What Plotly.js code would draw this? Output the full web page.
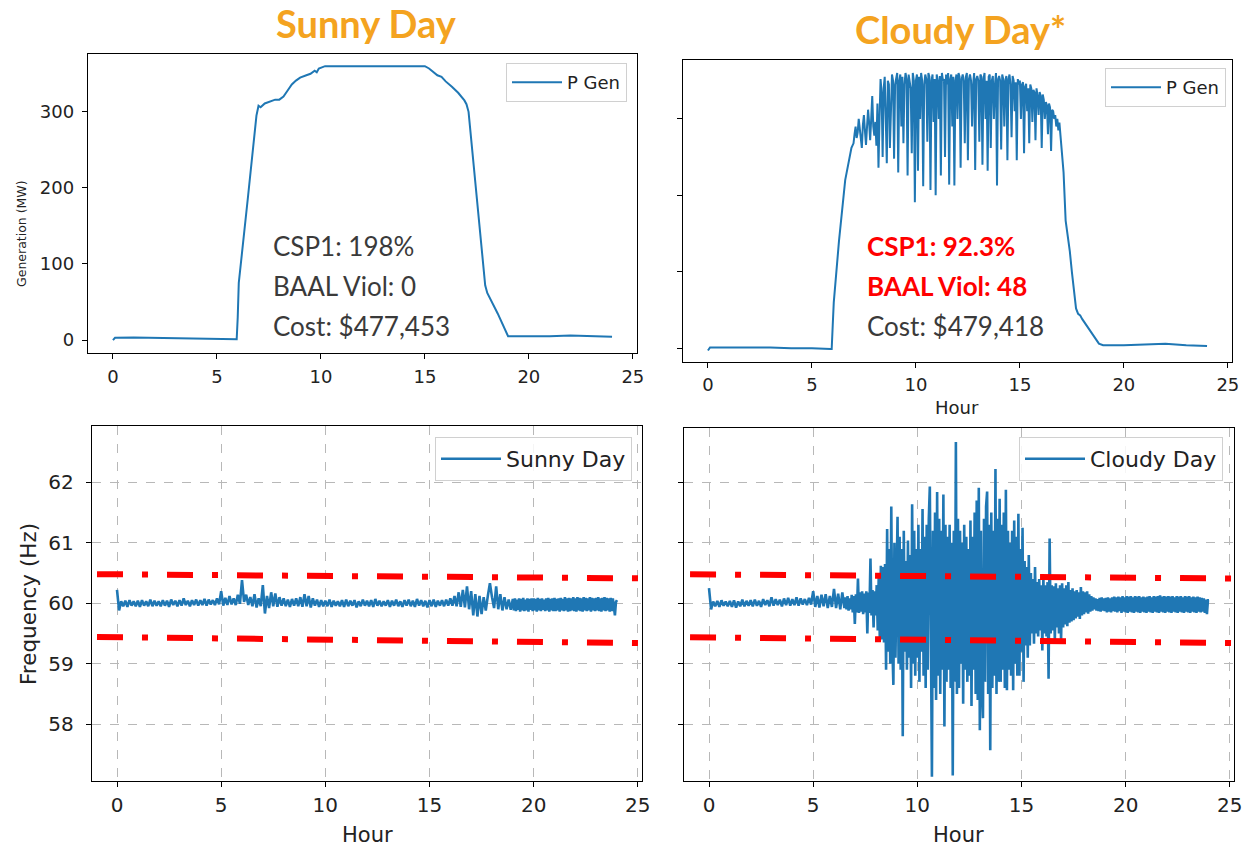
<!DOCTYPE html>
<html>
<head>
<meta charset="utf-8">
<script src="https://cdn.plot.ly/plotly-3.0.1.min.js"></script>
<style>html,body{margin:0;padding:0;background:#fff;}#chart{width:1243px;height:848px;}</style>
</head>
<body>
<div id="chart"></div>
<script>
// ---------------- DATA ----------------
const tickHours = [0, 5, 10, 15, 20, 25];
const genTicks = [0, 100, 200, 300];
const freqTicks = [58, 59, 60, 61, 62];

// Sunny day generation (hour, MW)
const sunnyGenHours = [0, 0.1, 1, 2, 3, 4, 5, 5.5, 5.95, 6.0, 6.05, 6.5, 6.9, 7.0, 7.1, 7.3, 7.5, 7.8, 8.0, 8.2, 8.4, 8.6, 8.8, 9.0, 9.3, 9.5, 9.7, 9.8, 9.9, 10.0, 10.2, 11, 12, 13, 14, 15, 15.2, 15.4, 15.6, 15.8, 16, 16.3, 16.6, 16.9, 17.0, 17.1, 17.5, 17.9, 18.0, 18.5, 19.0, 20, 21, 22, 23, 24];
const sunnyGenMW = [0, 3, 3.5, 3, 3, 2.5, 2, 1, 1, 30, 75, 190, 295, 308, 306, 311, 313, 316, 316, 320, 328, 336, 341, 345, 348, 350, 354, 352, 357, 358, 360, 360, 360, 360, 360, 360, 357, 353, 348, 346, 340, 333, 325, 315, 310, 300, 190, 72, 62, 35, 5, 5, 5, 6, 5, 4.5];

// Cloudy day generation: ramp-up, noisy plateau (7.0-17.0 every 0.05 h), ramp-down
const cloudyGenRampHours = [0, 0.1, 1, 2, 3, 4, 5, 5.9, 5.95, 6.0, 6.05, 6.3, 6.6, 6.9];
const cloudyGenRampMW = [-3, 1, 1, 1, 1, 0, 0, -1, -1, 30, 60, 140, 220, 262];
const cloudyGenNoisyStart = 7.0, cloudyGenNoisyStep = 0.05;
const cloudyGenNoisyMW = [
  268, 280, 290, 275, 282, 300, 288, 270, 262, 292, 305, 284, 266, 290, 312, 295, 272, 300, 330, 290,
  278, 296, 265, 320, 236, 300, 352, 335, 250, 340, 355, 300, 242, 350, 345, 262, 330, 358, 350, 248,
  345, 356, 360, 230, 350, 358, 290, 355, 268, 345, 360, 352, 226, 358, 350, 340, 255, 360, 350, 191,
  350, 358, 232, 355, 300, 360, 350, 212, 345, 358, 352, 270, 360, 355, 207, 350, 358, 296, 352, 200,
  358, 350, 300, 356, 226, 360, 350, 352, 250, 358, 345, 360, 214, 352, 358, 290, 355, 213, 350, 358,
  300, 360, 355, 236, 352, 358, 350, 268, 355, 360, 246, 352, 358, 350, 290, 345, 360, 233, 352, 356,
  350, 270, 358, 355, 240, 352, 360, 300, 350, 232, 355, 358, 262, 350, 356, 300, 345, 360, 213, 352,
  356, 350, 260, 358, 352, 290, 350, 356, 246, 352, 358, 345, 276, 356, 350, 310, 348, 246, 352, 345,
  350, 300, 345, 348, 255, 342, 346, 310, 340, 268, 345, 340, 296, 338, 335, 272, 340, 330, 305, 335,
  330, 262, 332, 325, 300, 322, 318, 280, 320, 315, 258, 312, 310, 300, 305, 290, 300, 285, 295, 280,
  270
];
const cloudyGenTailHours = [17.1, 17.2, 17.3, 17.4, 17.5, 17.6, 17.7, 17.8, 17.9, 18.0, 18.2, 18.5, 18.8, 19, 20, 21, 22, 23, 24];
const cloudyGenTailMW = [230, 167, 150, 127, 100, 75, 52, 45, 43, 38, 30, 18, 6, 4, 4, 5, 6, 4, 3];

// Sunny day frequency: 0-18.9 h every 0.1 h, then 19-24 h every 0.05 h
const sunnyFreqAStart = 0, sunnyFreqAStep = 0.1;
const sunnyFreqA = [
  60.22, 59.88, 60.03, 59.95, 60.04, 59.94, 60.05, 59.96, 60.03, 59.95,
  60.04, 59.94, 60.05, 59.96, 60.03, 59.95, 60.06, 59.95, 60.04, 59.96,
  60.03, 59.95, 60.05, 59.96, 60.04, 59.94, 60.06, 59.97, 60.04, 59.95,
  60.05, 59.96, 60.08, 59.97, 60.04, 59.95, 60.05, 59.97, 60.06, 59.96,
  60.05, 59.97, 60.07, 59.96, 60.06, 59.98, 60.05, 59.97, 60.08, 59.98,
  60.2, 59.96, 60.09, 59.97, 60.12, 59.98, 60.08, 59.97, 60.14, 59.99,
  60.38, 60.02, 60.14, 59.97, 60.1, 59.95, 60.15, 59.93, 60.08, 59.95,
  60.3, 59.83, 60.12, 59.92, 60.18, 59.95, 60.16, 59.94, 60.1, 59.96,
  60.08, 59.95, 60.06, 59.94, 60.07, 59.96, 60.08, 59.95, 60.1, 59.94,
  60.15, 59.95, 60.12, 59.93, 60.08, 59.96, 60.06, 59.94, 60.05, 59.95,
  60.04, 59.95, 60.06, 59.94, 60.04, 59.96, 60.03, 59.95, 60.05, 59.94,
  60.06, 59.95, 60.04, 59.96, 60.05, 59.93, 60.03, 59.95, 60.06, 59.96,
  60.04, 59.95, 60.05, 59.94, 60.07, 59.96, 60.04, 59.95, 60.03, 59.96,
  60.05, 59.94, 60.04, 59.96, 60.06, 59.95, 60.03, 59.94, 60.05, 59.96,
  60.06, 59.95, 60.04, 59.94, 60.07, 59.96, 60.05, 59.95, 60.04, 59.93,
  60.05, 59.95, 60.06, 59.94, 60.04, 59.96, 60.05, 59.95, 60.06, 59.96,
  60.08, 59.96, 60.12, 59.95, 60.18, 59.94, 60.22, 59.93, 60.28, 59.9,
  60.2, 59.8, 60.15, 59.78, 60.12, 59.82, 60.1, 59.88, 60.12, 60.33,
  60.1, 59.92, 60.28, 59.9, 60.15, 59.88, 60.1, 59.9, 60.06, 59.89
];
const sunnyFreqBStart = 19.0, sunnyFreqBStep = 0.05;
const sunnyFreqB = [
  60.07, 59.88, 60.08, 59.87, 60.06, 59.89, 60.08, 59.86, 60.07, 59.88, 60.09, 59.87, 60.06, 59.88, 60.08, 59.86, 60.07, 59.89, 60.08, 59.87,
  60.08, 59.88, 60.07, 59.86, 60.09, 59.88, 60.07, 59.87, 60.08, 59.89, 60.06, 59.87, 60.08, 59.88, 60.09, 59.86, 60.07, 59.88, 60.08, 59.87,
  60.09, 59.87, 60.07, 59.88, 60.08, 59.86, 60.09, 59.88, 60.07, 59.87, 60.1, 59.88, 60.08, 59.86, 60.09, 59.87, 60.08, 59.88, 60.1, 59.87,
  60.08, 59.86, 60.1, 59.88, 60.09, 59.87, 60.08, 59.86, 60.1, 59.88, 60.09, 59.87, 60.08, 59.88, 60.1, 59.86, 60.09, 59.88, 60.08, 59.87,
  60.09, 59.88, 60.1, 59.87, 60.08, 59.86, 60.09, 59.88, 60.1, 59.87, 60.09, 59.88, 60.08, 59.86, 60.09, 59.87, 60.08, 59.88, 59.8, 60.02,
  60.05
];

// Cloudy day frequency: three sampled segments
const cloudyFreqAStart = 0, cloudyFreqAStep = 0.1;
const cloudyFreqA = [
  60.25, 59.9, 60.03, 59.95, 60.04, 59.94, 60.05, 59.96, 60.03, 59.95,
  60.04, 59.94, 60.05, 59.93, 60.03, 59.95, 60.06, 59.95, 60.04, 59.96,
  60.05, 59.95, 60.06, 59.96, 60.04, 59.94, 60.07, 59.97, 60.05, 59.95,
  60.1, 59.96, 60.07, 59.97, 60.06, 59.95, 60.08, 59.97, 60.09, 59.96,
  60.07, 59.97, 60.1, 59.96, 60.08, 59.98, 60.07, 59.97, 60.09, 59.98,
  60.2, 59.94, 60.12, 59.93, 60.14, 59.95, 60.15, 59.92, 60.12, 59.94,
  60.24, 59.92, 60.16, 59.9, 60.18
];
const cloudyFreqBStart = 6.5, cloudyFreqBStep = 0.05;
const cloudyFreqB = [
  59.92, 60.1, 59.9, 60.12, 59.88, 60.08, 59.9, 60.14, 59.85, 60.12,
  59.66, 60.15, 59.85, 60.41, 59.84, 60.18, 59.86, 60.2, 59.82, 60.16,
  59.85, 60.2, 59.5, 60.18, 59.84, 60.74, 59.8, 60.22, 59.6, 60.2,
  59.8, 60.3, 59.55, 60.5, 59.38, 60.62, 59.4, 60.6, 59.35, 60.65,
  58.9, 61.23, 59.2, 60.9, 59.0, 61.6, 59.3, 58.65, 61.0, 59.1,
  60.8, 61.43, 59.0, 61.1, 58.9, 60.9, 57.8, 61.2, 59.2, 60.7,
  58.9, 61.04, 59.1, 60.8, 58.6, 61.64, 59.0, 61.2, 58.8, 60.9,
  59.1, 61.3, 58.7, 60.9, 59.2, 61.56, 58.8, 61.1, 58.6, 61.3,
  58.9, 61.4, 61.93, 58.23, 57.13, 61.2, 58.6, 61.5, 58.4, 61.84,
  58.8, 61.4, 58.5, 61.2, 58.9, 61.8, 57.96, 61.3, 58.7, 61.1,
  58.9, 61.3, 58.6, 61.0, 57.15, 61.2, 58.7, 62.67, 58.5, 61.4,
  58.6, 61.2, 59.0, 61.0, 58.34, 61.3, 58.9, 61.1, 58.7, 60.9,
  58.8, 61.37, 58.3, 61.1, 58.9, 61.5, 58.5, 61.7, 58.4, 61.91,
  57.9, 61.2, 58.6, 58.1, 61.4, 58.7, 61.6, 61.85, 58.5, 61.3,
  57.57, 61.5, 58.6, 61.2, 58.8, 62.22, 58.5, 61.4, 58.7, 61.73,
  58.7, 61.3, 58.9, 61.5, 58.6, 61.88, 58.56, 61.2, 58.9, 61.0,
  58.8, 61.2, 58.56, 61.37, 59.0, 61.1, 58.8, 61.48, 58.8, 60.9,
  59.2, 61.25, 58.7, 60.7, 59.3, 60.6, 59.1, 60.8, 59.3, 60.5,
  59.5, 60.4, 59.33, 60.6, 59.5, 60.35, 59.45, 60.4, 59.55, 60.3,
  59.22, 60.42, 59.5, 60.3, 59.45, 60.35, 58.75, 61.07, 59.5, 60.3,
  59.55, 60.28, 59.39, 60.33, 59.6, 60.25, 59.5, 60.3, 59.39, 60.33,
  59.6, 60.25, 59.65, 60.3, 59.62, 60.35, 59.68, 60.22, 59.7, 60.25,
  59.72, 60.2, 59.75, 60.22, 59.78, 60.18, 59.74, 60.27, 59.8, 60.2,
  59.82, 60.18, 59.85, 60.2, 59.83, 60.15, 59.86, 60.12, 59.88, 60.1
];
const cloudyFreqCStart = 18.5, cloudyFreqCStep = 0.05;
const cloudyFreqC = [
  59.9, 60.08, 59.88, 60.07, 59.87, 60.09, 59.86, 60.1, 59.88, 60.08,
  59.87, 60.09, 59.85, 60.1, 59.86, 60.08, 59.85, 60.1, 59.87, 60.11, 59.86, 60.1, 59.85, 60.11, 59.87, 60.1, 59.84, 60.12, 59.86, 60.1,
  59.85, 60.12, 59.84, 60.11, 59.86, 60.12, 59.85, 60.1, 59.84, 60.12, 59.86, 60.11, 59.85, 60.12, 59.84, 60.1, 59.86, 60.11, 59.85, 60.1,
  59.84, 60.11, 59.86, 60.12, 59.85, 60.1, 59.84, 60.12, 59.86, 60.11, 59.85, 60.12, 59.84, 60.13, 59.86, 60.11, 59.85, 60.12, 59.84, 60.11,
  59.86, 60.12, 59.85, 60.11, 59.84, 60.12, 59.86, 60.1, 59.85, 60.12, 59.84, 60.11, 59.86, 60.12, 59.85, 60.1, 59.84, 60.12, 59.86, 60.11,
  59.85, 60.12, 59.84, 60.1, 59.86, 60.11, 59.85, 60.1, 59.84, 60.11, 59.86, 60.1, 59.85, 60.09, 59.86, 60.08, 59.84, 60.06, 59.82, 60.05,
  60.05
];

// BAAL limit lines (hour endpoints, Hz)
const baalHoursLeft = [-0.96, 25.35];
const baalHoursRight = [-0.91, 25.35];
const baalUpperHz = [60.48, 60.41];
const baalLowerHz = [59.44, 59.34];

// Text
const sunnyStats = ["CSP1: 198%", "BAAL Viol: 0", "Cost: $477,453"];
const cloudyStats = ["CSP1: 92.3%", "BAAL Viol: 48", "Cost: $479,418"];

// ---------------- BUILD ----------------
function hoursFor(start, step, vals) { return vals.map((v, i) => +(start + i * step).toFixed(3)); }

const cloudyGenHours = cloudyGenRampHours.concat(hoursFor(cloudyGenNoisyStart, cloudyGenNoisyStep, cloudyGenNoisyMW), cloudyGenTailHours);
const cloudyGenMW = cloudyGenRampMW.concat(cloudyGenNoisyMW, cloudyGenTailMW);
const sunnyFreqHours = hoursFor(sunnyFreqAStart, sunnyFreqAStep, sunnyFreqA).concat(hoursFor(sunnyFreqBStart, sunnyFreqBStep, sunnyFreqB));
const sunnyFreqHz = sunnyFreqA.concat(sunnyFreqB);
const cloudyFreqHours = hoursFor(cloudyFreqAStart, cloudyFreqAStep, cloudyFreqA)
  .concat(hoursFor(cloudyFreqBStart, cloudyFreqBStep, cloudyFreqB), hoursFor(cloudyFreqCStart, cloudyFreqCStep, cloudyFreqC));
const cloudyFreqHz = cloudyFreqA.concat(cloudyFreqB, cloudyFreqC);

const W = 1243, H = 848;
const fx = p => p / W, fy = p => 1 - p / H;
const BLUE = '#1f77b4';
const TICKFONT = 'DejaVu Sans';

const traces = [
  {x: sunnyGenHours, y: sunnyGenMW, xaxis: 'x', yaxis: 'y', type: 'scatter', mode: 'lines', name: 'P Gen', legend: 'legend', line: {color: BLUE, width: 2}},
  {x: cloudyGenHours, y: cloudyGenMW, xaxis: 'x2', yaxis: 'y2', type: 'scatter', mode: 'lines', name: 'P Gen', legend: 'legend2', line: {color: BLUE, width: 2}},
  {x: sunnyFreqHours, y: sunnyFreqHz, xaxis: 'x3', yaxis: 'y3', type: 'scatter', mode: 'lines', name: 'Sunny Day', legend: 'legend3', line: {color: BLUE, width: 2.6}},
  {x: cloudyFreqHours, y: cloudyFreqHz, xaxis: 'x4', yaxis: 'y4', type: 'scatter', mode: 'lines', name: 'Cloudy Day', legend: 'legend4', line: {color: BLUE, width: 2.6}},
];
const redLine = {color: '#ff0000', width: 6, dash: '26px,19px,6px,19px'};
[[baalHoursLeft, 'x3', 'y3'], [baalHoursRight, 'x4', 'y4']].forEach(([hx, xa, ya]) => {
  [baalUpperHz, baalLowerHz].forEach(lim => traces.push({x: hx, y: lim, xaxis: xa, yaxis: ya, type: 'scatter', mode: 'lines', showlegend: false, hoverinfo: 'skip', line: redLine}));
});

function xax(domain, anchor, size, grid, standoff) {
  return {domain: domain, anchor: anchor, range: [-1.2, 25.2], tickvals: tickHours, ticks: 'outside', ticklen: 5, tickwidth: 1, tickcolor: '#000',
    showline: true, mirror: true, linecolor: '#000', linewidth: 1.2, zeroline: false, showgrid: grid, gridcolor: '#b8b8b8', griddash: 'dash', gridwidth: 1,
    tickfont: {family: TICKFONT, size: size, color: '#222'}, ticklabelstandoff: standoff, automargin: false};
}
function yax(domain, anchor, range, tv, size, labels, grid, standoff) {
  return {domain: domain, anchor: anchor, range: range, tickvals: tv, ticks: 'outside', ticklen: 5, tickwidth: 1, tickcolor: '#000', showticklabels: labels,
    showline: true, mirror: true, linecolor: '#000', linewidth: 1.2, zeroline: false, showgrid: grid, gridcolor: '#b8b8b8', griddash: 'dash', gridwidth: 1,
    tickfont: {family: TICKFONT, size: size, color: '#222'}, ticklabelstandoff: standoff, automargin: false};
}
function legendAt(xr, yt, size, iw) {
  return {x: fx(xr), y: fy(yt), xanchor: 'right', yanchor: 'top', bgcolor: 'rgba(255,255,255,0.85)', bordercolor: '#d0d0d0', borderwidth: 1,
    font: {family: TICKFONT, size: size, color: '#222'}, itemwidth: iw};
}

const annotations = [];
function txt(x, y, text, size, color, opts) {
  annotations.push(Object.assign({xref: 'paper', yref: 'paper', x: fx(x), y: fy(y), text: text, showarrow: false,
    font: {family: 'Lato', size: size, color: color}, xanchor: 'center', yanchor: 'middle'}, opts || {}));
}
txt(366, 23, '<b>Sunny Day</b>', 38, '#F4A320');
txt(960, 29, '<b>Cloudy Day*</b>', 38, '#F4A320');
sunnyStats.forEach((s, i) => txt(271, 246 + i * 40, s, 26, '#3a3a3a', {xanchor: 'left'}));
cloudyStats.forEach((s, i) => txt(865, 246 + i * 40, i < 2 ? '<b>' + s + '</b>' : s, 26, i < 2 ? '#ff0000' : '#3a3a3a', {xanchor: 'left'}));
txt(22, 234, 'Generation (MW)', 12.5, '#222', {textangle: -90, font: {family: TICKFONT, size: 12.5, color: '#222'}});
txt(957, 407, 'Hour', 18, '#222', {font: {family: TICKFONT, size: 18, color: '#222'}});
txt(28, 604, 'Frequency (Hz)', 21.5, '#222', {textangle: -90, font: {family: TICKFONT, size: 21.5, color: '#222'}});
txt(367, 835, 'Hour', 21, '#222', {font: {family: TICKFONT, size: 21, color: '#222'}});
txt(958, 835, 'Hour', 21, '#222', {font: {family: TICKFONT, size: 21, color: '#222'}});

const layout = {
  width: W, height: H, margin: {l: 0, r: 0, t: 0, b: 0}, paper_bgcolor: '#fff', plot_bgcolor: '#fff', showlegend: true,
  xaxis: xax([fx(88), fx(637)], 'y', 18, false, 2),
  yaxis: yax([fy(353), fy(54)], 'x', [-17, 376], genTicks, 18, true, false, 4),
  xaxis2: xax([fx(683), fx(1232)], 'y2', 18, false, 1),
  yaxis2: yax([fy(362), fy(60)], 'x2', [-18, 377], genTicks, 18, false, false, 4),
  xaxis3: xax([fx(92), fx(642)], 'y3', 20, true, 1),
  yaxis3: yax([fy(781), fy(426)], 'x3', [57.06, 62.93], freqTicks, 20, true, true, 8),
  xaxis4: xax([fx(684), fx(1234)], 'y4', 20, true, 1),
  yaxis4: yax([fy(781), fy(428)], 'x4', [57.06, 62.9], freqTicks, 20, false, true, 8),
  legend: legendAt(627, 63, 18, 50),
  legend2: legendAt(1226, 68, 18, 50),
  legend3: legendAt(632, 437, 22, 60),
  legend4: legendAt(1223, 437, 22, 60),
  annotations: annotations
};

Plotly.newPlot('chart', traces, layout, {staticPlot: true, displayModeBar: false});
</script>
</body>
</html>
